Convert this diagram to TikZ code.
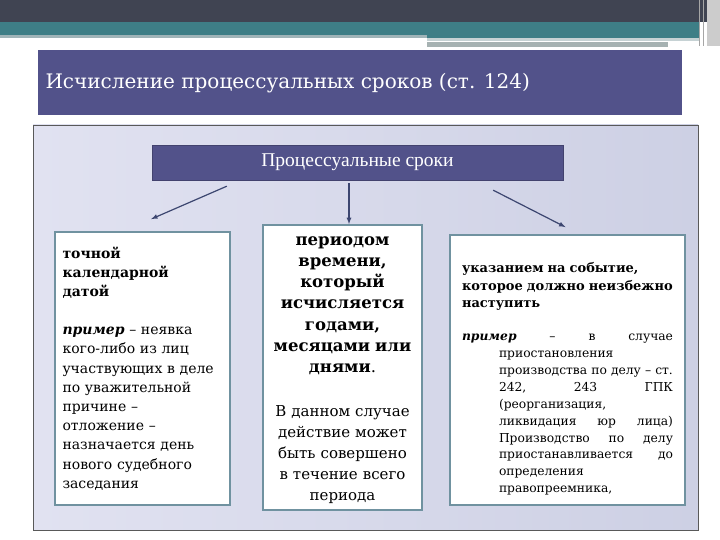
\documentclass[tikz,border=0pt]{standalone}
\usepackage{fontspec}
\setmainfont{DejaVu Serif}
\newfontfamily\headfont{Liberation Serif}
\usetikzlibrary{positioning,calc}

\definecolor{slateband}{RGB}{64,68,82}
\definecolor{tealband}{RGB}{62,126,134}
\definecolor{paleteal}{RGB}{160,180,184}
\definecolor{greybar}{RGB}{166,178,178}
\definecolor{titleblue}{RGB}{82,82,138}
\definecolor{panelhi}{RGB}{225,226,241}
\definecolor{panello}{RGB}{205,208,228}
\definecolor{boxline}{RGB}{112,146,160}
\definecolor{arrowblue}{RGB}{60,70,112}

\newcommand{\jl}[1]{\hspace*{37pt}\makebox[174pt][l]{#1}}

\begin{document}
\begin{tikzpicture}[
	x=1pt, y=-1pt,
	titlebox/.style={fill=titleblue, draw=titleblue!80!black, text=white},
	textbox/.style={rectangle, draw=boxline, fill=white, line width=1.8pt, inner sep=0pt},
	link/.style={-latex, arrowblue, line width=1.2pt}
	]
	\useasboundingbox (0,0) rectangle (720,540);
	\fill[white] (0,0) rectangle (720,540);
	% Top bands
	\fill[slateband] (0,0) rectangle (707,22);
	\fill[tealband] (0,22) rectangle (700,35);
	\fill[paleteal] (0,35) rectangle (427,38);
	\fill[tealband] (427,35) rectangle (700,38);
	\fill[paleteal!60!white] (427,38) rectangle (700,41);
	\fill[greybar] (427,42) rectangle (668,47);
	\fill[black!20] (707,0) rectangle (720,46);
	\draw[black!35, line width=1pt] (699,0) -- (699,46) (703,0) -- (703,46);

	% Title
	\fill[titleblue] (38,50) rectangle (682,115);
	\node[anchor=west, text=white, font=\fontsize{20}{24}\selectfont] (Title) at (42,83)
		{Исчисление процессуальных сроков (ст. 124)};

	% Panel
	\draw[black!65, left color=panelhi, right color=panello] (33,125) rectangle (698,530);

	%Nodes
	\node[titlebox, minimum width=411pt, minimum height=35pt, font=\headfont\fontsize{19.5}{23}\selectfont] (Terms) at (357.5,162.5) {Процессуальные сроки};

	\node[textbox, minimum width=175pt, minimum height=273pt, text width=160pt, align=left,
		font=\fontsize{14}{19.2}\selectfont] (Date) at (142.5,368.5)
		{\textbf{точной}\\ \textbf{календарной}\\ \textbf{датой}\\[19pt]
		\textbf{\textit{пример}} – неявка\\ кого-либо из лиц\\ участвующих в деле\\ по уважительной\\
		причине –\\ отложение –\\ назначается день\\ нового судебного\\ заседания};

	\node[textbox, minimum width=159pt, minimum height=285pt, text width=150pt, align=center,
		font=\fontsize{15}{21.2}\selectfont] (Period) at (342.5,367.5)
		{\fontsize{16.5}{21.3}\selectfont\rule{0pt}{14pt}\textbf{периодом}\\ \textbf{времени,}\\ \textbf{который}\\ \textbf{исчисляется}\\
		\textbf{годами,}\\ \textbf{месяцами или}\\ \textbf{днями}.\\[22pt]
		\fontsize{15}{21.2}\selectfont В данном случае\\ действие может\\ быть совершено\\ в течение всего\\ периода};

	\node[textbox, minimum width=235pt, minimum height=270pt, text width=211pt, align=left,
		font=\fontsize{12.3}{16.9}\selectfont] (Event) at (567.5,370)
		{\fontsize{13}{17.5}\selectfont\rule{0pt}{28pt}\textbf{указанием на событие,}\\ \textbf{которое должно неизбежно}\\ \textbf{наступить}\\[16pt]
		\fontsize{12.3}{16.9}\selectfont\makebox[211pt][l]{\textbf{\textit{пример}}\hfill–\hfill в\hfill случае}\\
		\hspace*{37pt}приостановления\\
		\hspace*{37pt}производства по делу – ст.\\
		\jl{242,\hfill 243\hfill ГПК}\\
		\hspace*{37pt}(реорганизация,\\
		\jl{ликвидация\hfill юр\hfill лица)}\\
		\jl{Производство\hfill по\hfill делу}\\
		\jl{приостанавливается\hfill до}\\
		\hspace*{37pt}определения\\
		\hspace*{37pt}правопреемника,};

	%Lines
	\draw[link] ([xshift=75pt,yshift=-6pt]Terms.south west) -- ([xshift=97pt,yshift=12pt]Date.north west);
	\draw[link] ([xshift=-8.5pt,yshift=-3pt]Terms.south) -- ([xshift=6.5pt]Period.north);
	\draw[link] ([xshift=-70pt,yshift=-10pt]Terms.south east) -- ([xshift=-2pt,yshift=7pt]Event.north);
\end{tikzpicture}
\end{document}
